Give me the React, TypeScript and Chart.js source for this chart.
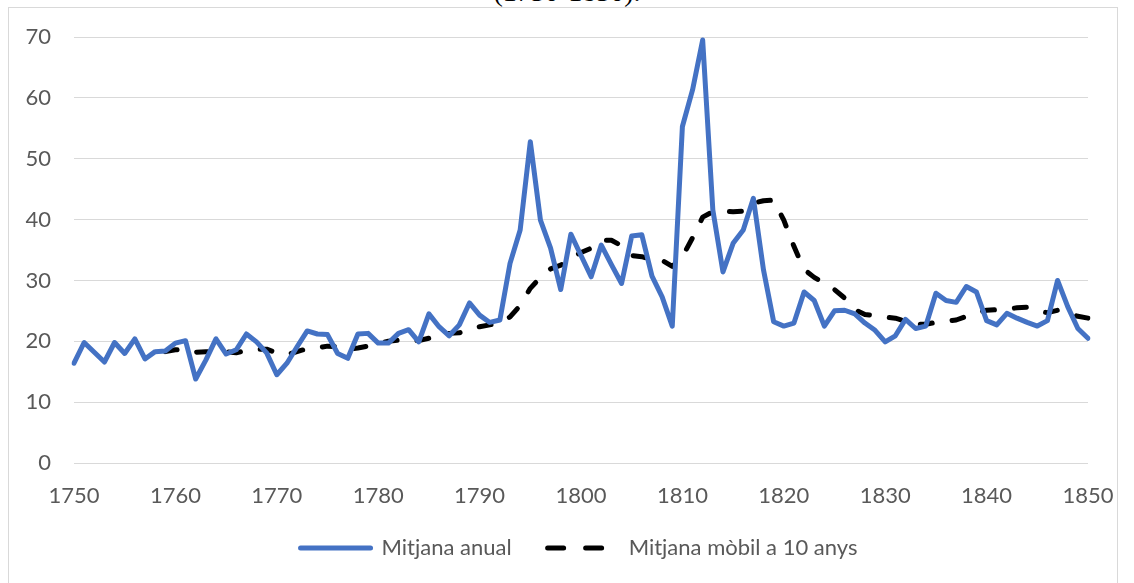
import { useEffect, useRef } from "react";
import { Chart, registerables } from "chart.js";

Chart.register(...registerables);

const titleText = "(1750-1850).";
const seriesNames = ["Mitjana anual", "Mitjana mòbil a 10 anys"];

const years = [
  1750, 1751, 1752, 1753, 1754, 1755, 1756, 1757, 1758, 1759,
  1760, 1761, 1762, 1763, 1764, 1765, 1766, 1767, 1768, 1769,
  1770, 1771, 1772, 1773, 1774, 1775, 1776, 1777, 1778, 1779,
  1780, 1781, 1782, 1783, 1784, 1785, 1786, 1787, 1788, 1789,
  1790, 1791, 1792, 1793, 1794, 1795, 1796, 1797, 1798, 1799,
  1800, 1801, 1802, 1803, 1804, 1805, 1806, 1807, 1808, 1809,
  1810, 1811, 1812, 1813, 1814, 1815, 1816, 1817, 1818, 1819,
  1820, 1821, 1822, 1823, 1824, 1825, 1826, 1827, 1828, 1829,
  1830, 1831, 1832, 1833, 1834, 1835, 1836, 1837, 1838, 1839,
  1840, 1841, 1842, 1843, 1844, 1845, 1846, 1847, 1848, 1849,
  1850,
];

const annualMean = [
  16.4, 19.8, 18.2, 16.6, 19.8, 18.0, 20.4, 17.1, 18.3, 18.4,
  19.7, 20.1, 13.8, 16.9, 20.4, 17.9, 18.6, 21.2, 19.9, 18.1,
  14.5, 16.4, 19.1, 21.7, 21.2, 21.1, 18.0, 17.2, 21.2, 21.3,
  19.7, 19.7, 21.3, 21.9, 19.9, 24.5, 22.4, 20.9, 22.7, 26.3,
  24.3, 23.1, 23.5, 32.8, 38.3, 52.8, 39.9, 35.3, 28.5, 37.6,
  34.1, 30.6, 35.8, 32.6, 29.5, 37.3, 37.5, 30.7, 27.3, 22.5,
  55.3, 61.3, 69.5, 41.6, 31.4, 36.1, 38.3, 43.5, 31.7, 23.2,
  22.5, 23.0, 28.1, 26.7, 22.5, 25.0, 25.1, 24.5, 23.0, 21.8,
  19.9, 20.9, 23.6, 22.1, 22.5, 27.9, 26.7, 26.4, 29.0, 28.1,
  23.4, 22.7, 24.6, 23.8, 23.1, 22.5, 23.4, 30.0, 25.7, 22.1,
  20.5,
];

const movingAverage10 = [
  null, null, null, null, null, null, null, null, null, 18.3,
  18.6, 18.7, 18.2, 18.3, 18.3, 18.3, 18.1, 18.5, 18.7, 18.7,
  18.1, 17.8, 18.3, 18.8, 18.9, 19.2, 19.1, 18.7, 18.9, 19.2,
  19.7, 20.0, 20.2, 20.3, 20.1, 20.5, 20.9, 21.3, 21.4, 21.9,
  22.4, 22.7, 23.0, 24.0, 25.9, 28.7, 30.5, 31.9, 32.5, 33.6,
  34.6, 35.3, 36.6, 36.6, 35.7, 34.1, 33.9, 33.4, 33.3, 32.3,
  33.9, 37.0, 40.4, 41.3, 41.4, 41.3, 41.4, 42.7, 43.1, 43.2,
  39.9, 35.6, 31.8, 30.5, 29.5, 28.5, 27.1, 25.2, 24.4, 24.2,
  24.0, 23.8, 23.3, 22.8, 22.8, 23.1, 23.3, 23.5, 24.1, 24.7,
  25.1, 25.2, 25.3, 25.5, 25.6, 25.0, 24.7, 25.1, 24.7, 24.1,
  23.8,
];

const yMin = 0;
const yMax = 70;
const yStep = 10;
const xLabelEvery = 10;

const FONT = "Lato, 'Open Sans', 'DejaVu Sans', sans-serif";
const TEXT_COLOR = "#595959";
const LINE_DASH = [12, 20];
const LEGEND_DASH = [16, 22];

const legendShift = {
  id: "legendShift",
  afterLayout(chart: any) {
    const l = chart.legend;
    if (!l) return;
    l.left += 35;
    l.right += 35;
    l.top -= 12;
    l.bottom -= 12;
  },
};

export default function App() {
  const canvasRef = useRef<HTMLCanvasElement | null>(null);

  useEffect(() => {
    const canvas = canvasRef.current;
    if (!canvas) return;
    const chart = new Chart(canvas, {
      type: "line",
      plugins: [legendShift],
      data: {
        labels: years,
        datasets: [
          {
            label: seriesNames[0],
            data: annualMean,
            borderColor: "#4472C4",
            backgroundColor: "#4472C4",
            borderWidth: 5,
            pointRadius: 0,
            pointHoverRadius: 0,
            borderJoinStyle: "round",
            borderCapStyle: "round",
            tension: 0,
            fill: false,
          },
          {
            label: seriesNames[1],
            data: movingAverage10,
            borderColor: "#000000",
            backgroundColor: "#000000",
            borderWidth: 5,
            borderDash: LINE_DASH,
            borderCapStyle: "round",
            borderJoinStyle: "round",
            pointRadius: 0,
            pointHoverRadius: 0,
            tension: 0,
            fill: false,
            spanGaps: false,
          },
        ],
      },
      options: {
        animation: false,
        responsive: false,
        maintainAspectRatio: false,
        layout: { padding: { left: 0, right: 46, top: 37, bottom: 2 } },
        plugins: {
          legend: {
            position: "bottom",
            labels: {
              usePointStyle: true,
              pointStyle: "line",
              pointStyleWidth: 70,
              color: TEXT_COLOR,
              font: { family: FONT, size: 22 },
              padding: 36,
              generateLabels: (c: any) => {
                const items = (Chart as any).defaults.plugins.legend.labels.generateLabels(c);
                items.forEach((it: any) => {
                  it.lineDash = it.datasetIndex === 1 ? LEGEND_DASH : [];
                  it.lineWidth = 5;
                  it.lineCap = "round";
                });
                return items;
              },
            },
          },
          tooltip: { enabled: false },
          title: { display: false },
        },
        scales: {
          x: {
            type: "category",
            grid: { display: false },
            border: { display: false },
            ticks: {
              autoSkip: false,
              maxRotation: 0,
              minRotation: 0,
              color: TEXT_COLOR,
              font: { family: FONT, size: 22 },
              padding: 12,
              callback: (_v: any, i: number) =>
                years[i] % xLabelEvery === 0 ? String(years[i]) : null,
            },
            afterFit: (s: any) => {
              s.height = 50;
            },
          },
          y: {
            min: yMin,
            max: yMax,
            grid: { color: "#d9d9d9", lineWidth: 1, drawTicks: false },
            border: { display: false },
            ticks: {
              stepSize: yStep,
              color: TEXT_COLOR,
              font: { family: FONT, size: 22 },
              padding: 23,
            },
            afterFit: (s: any) => {
              s.width = 74;
            },
          },
        },
      },
    });
    return () => chart.destroy();
  }, []);

  return (
    <div
      style={{
        position: "fixed",
        left: 0,
        top: 0,
        width: 1134,
        height: 583,
        background: "#ffffff",
        overflow: "hidden",
      }}
    >
      <div
        style={{
          position: "absolute",
          left: 0,
          top: -22,
          width: 1134,
          textAlign: "center",
          fontFamily: "'Liberation Serif', 'Times New Roman', serif",
          fontSize: 28,
          lineHeight: "28px",
          color: "#000",
          boxSizing: "border-box",
        }}
      >
        {titleText}
      </div>
      <div
        style={{
          position: "absolute",
          left: 8,
          top: 7,
          width: 1110,
          height: 600,
          border: "1px solid #d9d9d9",
          boxSizing: "border-box",
        }}
      />
      <canvas
        ref={canvasRef}
        width={1134}
        height={583}
        style={{ position: "absolute", left: 0, top: 0, width: 1134, height: 583 }}
      />
    </div>
  );
}
